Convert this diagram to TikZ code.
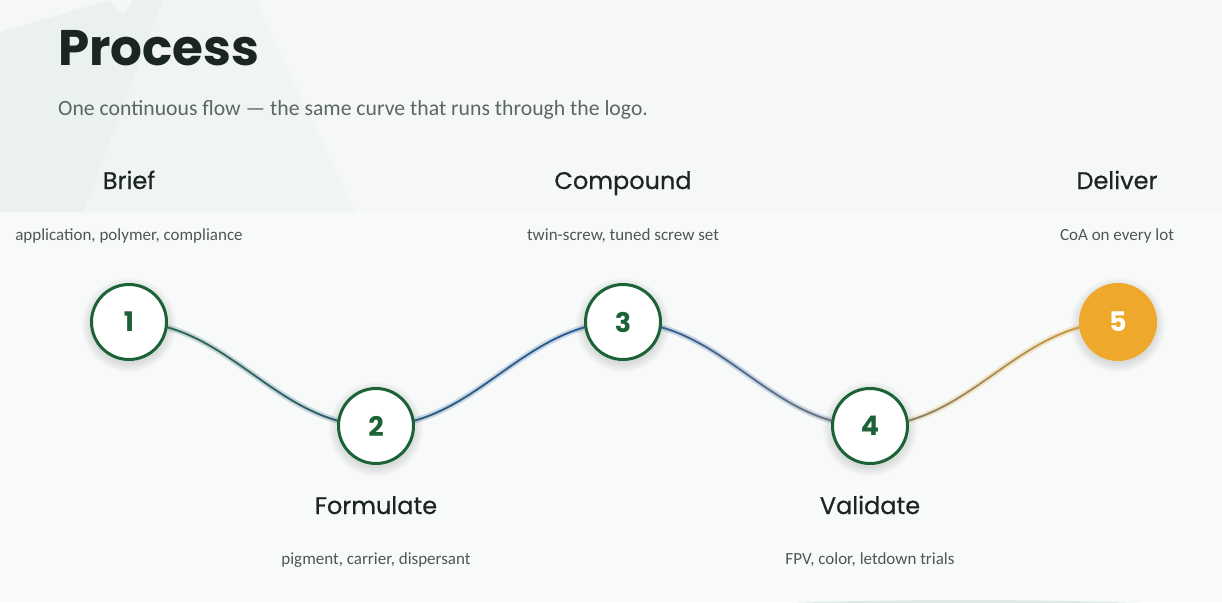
\documentclass[tikz,border=0pt]{standalone}
\usepackage{fontspec}
\setmainfont{Carlito}
\newfontfamily\pop{Poppins}
\newfontfamily\popm{Poppins}[FakeBold=0.6]
\usetikzlibrary{decorations.markings}
\pgfdeclarelayer{back}
\pgfdeclarelayer{mid}
\pgfsetlayers{back,mid,main}
\definecolor{bgc}{HTML}{F6F8F7}
\definecolor{bandc}{HTML}{F8FAF9}
\definecolor{tria}{HTML}{F1F5F2}
\definecolor{trib}{HTML}{EBF1ED}
\definecolor{arcc}{HTML}{E0E9E4}
\definecolor{ngreen}{HTML}{1B6236}
\definecolor{titlec}{HTML}{1C2620}
\definecolor{subc}{HTML}{5A6862}
\definecolor{descc}{HTML}{4D5853}
\definecolor{orangec}{HTML}{EEA82B}
\definecolor{ga}{HTML}{2F6B45}
\definecolor{gb}{HTML}{2A5F78}
\definecolor{gc}{HTML}{2B5B9A}
\definecolor{gd}{HTML}{7C7B74}
\definecolor{ge}{HTML}{D6A236}
\tikzset{
  stepc/.style={circle, draw=ngreen, line width=3pt, fill=white, minimum size=75pt, inner sep=0pt,
    font=\pop\bfseries\fontsize{27}{27}\selectfont, text=ngreen},
  stepfinal/.style={stepc, draw=orangec, fill=orangec, text=white},
  labelc/.style={font=\popm\fontsize{24}{24}\selectfont, text=titlec, anchor=base},
  descn/.style={font=\fontsize{17}{17}\selectfont, text=descc, anchor=base},
  shadowc/.style={fill=black, fill opacity=0.025},
  glow/.style={preaction={draw, line width=6pt, draw=#1, draw opacity=0.22}},
  grad/.style n args={2}{postaction={decorate, decoration={markings,
     mark=between positions 0 and 1 step 0.6pt with {%
       \pgfmathsetmacro\gfrac{(\pgfkeysvalueof{/pgf/decoration/mark info/distance from start})/(\pgfdecoratedpathlength)}%
       \pgfmathsetmacro\gpct{max(0,min(100,100*(1-\gfrac)))}%
       \fill[#1!\gpct!#2] (0,0) circle (1.05pt);}}}}
}
\begin{document}
\begin{tikzpicture}[x=1pt,y=-1pt]
\useasboundingbox (0,0) rectangle (1222,602);
\begin{pgfonlayer}{back}
  \fill[bgc] (0,0) rectangle (1222,602);
  \fill[bandc] (0,212) rectangle (1222,602);
  \begin{scope}
    \clip (0,0) rectangle (1222,212);
    \fill[trib] (0,32) -- (110,0) -- (294,212) -- (0,212) -- cycle;
    \fill[trib] (133,0) -- (200,0) -- (200,212) -- (-8,212) -- cycle;
    \fill[tria] (163,0) -- (255,0) -- (355,212) -- (83,212) -- cycle;
  \end{scope}
  \fill[arcc] (965,630) ellipse [x radius=400pt, y radius=30pt];
\end{pgfonlayer}

% title
\node[anchor=base west, font=\pop\bfseries\fontsize{50}{50}\selectfont, text=titlec, inner sep=0pt] (title) at (58,66) {Process};
\node[anchor=base west, font=\fontsize{21.7}{21.7}\selectfont, text=subc, inner sep=0pt] (sub) at (58,115) {One continuous flow — the same curve that runs through the logo.};

% steps
\node[stepc] (n1) at (129,322) {1};
\node[stepc] (n2) at (376,426) {2};
\node[stepc] (n3) at (623,322) {3};
\node[stepc] (n4) at (870,426) {4};
\node[stepfinal] (n5) at (1118,322) {5};

% labels
\node[labelc] (l1) at (129,189) {Brief};
\node[descn] (d1) at (129,240) {application, polymer, compliance};
\node[labelc] (l2) at (376,514) {Formulate};
\node[descn] (d2) at (376,564) {pigment, carrier, dispersant};
\node[labelc] (l3) at (623,189) {Compound};
\node[descn] (d3) at (623,240) {twin-screw, tuned screw set};
\node[labelc] (l4) at (870,514) {Validate};
\node[descn] (d4) at (870,564) {FPV, color, letdown trials};
\node[labelc] (l5) at (1117,189) {Deliver};
\node[descn] (d5) at (1117,240) {CoA on every lot};

% soft shadows under the step circles
\begin{pgfonlayer}{mid}
  \foreach \n in {n1,n2,n3,n4,n5}
    \foreach \r in {47,45,43,41,39}
      \fill[shadowc] ([yshift=-3pt]\n.center) circle (\r pt);
\end{pgfonlayer}

% connectors
\begin{pgfonlayer}{mid}
  \path[glow=gb, grad={ga}{gb}] (n1.center) .. controls +(100,0) and +(-100,0) .. (n2.center);
  \path[glow=gc, grad={gb}{gc}] (n2.center) .. controls +(100,0) and +(-100,0) .. (n3.center);
  \path[glow=gc, grad={gc}{gd}] (n3.center) .. controls +(100,0) and +(-100,0) .. (n4.center);
  \path[glow=ge, grad={gd}{ge}] (n4.center) .. controls +(100,0) and +(-100,0) .. (n5.center);
\end{pgfonlayer}
\end{tikzpicture}
\end{document}
